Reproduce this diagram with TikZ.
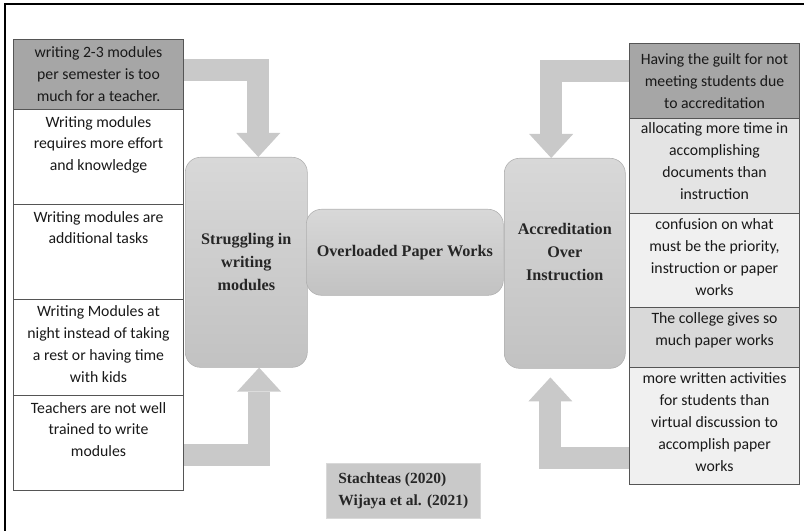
\documentclass[tikz,border=0pt]{standalone}
\usepackage{fontspec}
\setmainfont{Carlito}
\newfontfamily\timesfam{Liberation Serif}
\usetikzlibrary{arrows.meta,positioning,calc}
\definecolor{cellDark}{HTML}{A6A6A6}
\definecolor{cellLight}{HTML}{E4E4E4}
\definecolor{cellPale}{HTML}{F0F0F0}
\definecolor{cellMid}{HTML}{D9D9D9}
\definecolor{arrowGray}{HTML}{C9C9C9}
\definecolor{boxTop}{HTML}{D8D8D8}
\definecolor{boxBot}{HTML}{C2C2C2}
\definecolor{lineGray}{HTML}{555555}

\begin{document}
\begin{tikzpicture}[x=0.025cm,y=-0.025cm,
  cell/.style={draw=lineGray,line width=0.7pt,minimum width=4.25cm,anchor=north west,inner sep=0pt},
  celltext/.style={align=center,inner sep=2pt,text=black!90,font=\fontsize{11.2}{15.6}\selectfont},
  bigbox/.style={rounded corners=0.38cm,top color=boxTop,bottom color=boxBot,draw=boxBot!90!black,
    align=center,anchor=north west,text=black!85,font=\timesfam\bfseries\fontsize{11.5}{16.3}\selectfont},
  blockarrow/.style={draw=arrowGray,line width=0.55cm,line join=miter,
    -{Triangle[width=1.1cm,length=0.6cm,line width=0pt]}}]
  \useasboundingbox (0,0) rectangle (804,531);
  % frame
  \draw[line width=0.05cm] (5,535) -- (5,4) -- (808,4);
  % left column
  \foreach \n/\y/\h/\c/\a/\s/\txt in {
    L1/39/1.75/cellDark/center/0cm/{writing 2-3 modules\\per semester is too\\much for a teacher.},
    L2/109/2.375/white/north/-0.1cm/{Writing modules\\requires more effort\\and knowledge},
    L3/204/2.375/white/north/-0.1cm/{Writing modules are\\additional tasks},
    L4/299/2.4/white/north/-0.08cm/{Writing Modules at\\night instead of taking\\a rest or having time\\with kids},
    L5/395/2.375/white/north/-0.1cm/{Teachers are not well\\trained to write\\modules}}{
    \node[cell,fill=\c,minimum height=\h cm] (\n) at (13,\y) {};
    \node[celltext,anchor=\a,yshift=\s] (\n t) at (\n.\a) {\txt};
  }
  % right column
  \foreach \n/\y/\h/\c/\a/\s/\txt in {
    R1/43/1.875/cellDark/center/0cm/{Having the guilt for not\\meeting students due\\to accreditation},
    R2/118/2.375/cellLight/north/-0.04cm/{allocating more time in\\accomplishing\\documents than\\instruction},
    R3/213/2.35/cellPale/north/-0.06cm/{confusion on what\\must be the priority,\\instruction or paper\\works},
    R4/307/1.5/cellMid/north/-0.06cm/{The college gives so\\much paper works},
    R5/367/2.925/cellPale/north/-0.06cm/{more written activities\\for students than\\virtual discussion to\\accomplish paper\\works}}{
    \node[cell,fill=\c,minimum height=\h cm] (\n) at (629,\y) {};
    \node[celltext,anchor=\a,yshift=\s] (\n t) at (\n.\a) {\txt};
  }
  % themes
  \node[bigbox,minimum width=3.05cm,minimum height=5.25cm] (S) at (185,157) {Struggling in\\writing\\modules};
  \node[bigbox,minimum width=3.025cm,minimum height=5.25cm] (A) at (504,158) {Accreditation\\Over\\Instruction\\\mbox{}};
  \node[bigbox,minimum width=4.925cm,minimum height=2.15cm] (O) at (306,209) {Overloaded Paper Works};
  % arrows
  \draw[blockarrow] ([yshift=0.11cm]L1.east) -| ([xshift=0.3cm]S.north);
  \draw[blockarrow] ([yshift=-0.3cm]L5.east) -| ([xshift=0.32cm]S.south);
  \draw[blockarrow] ([yshift=0.24cm]R1.west) -| ([xshift=-0.34cm]A.north);
  \draw[blockarrow,shorten >=0.22cm] ([yshift=-0.8cm]R5.west) -| ([xshift=-0.36cm]A.south);
  % sources
  \node[fill=arrowGray,draw=cellMid,anchor=north west,minimum width=3.85cm,minimum height=1.375cm,
    align=left,text=black!85,font=\timesfam\bfseries\fontsize{11}{16.3}\selectfont] (C) at (326,463)
    {Stachteas (2020)\\Wijaya et al. (2021)};
\end{tikzpicture}
\end{document}
